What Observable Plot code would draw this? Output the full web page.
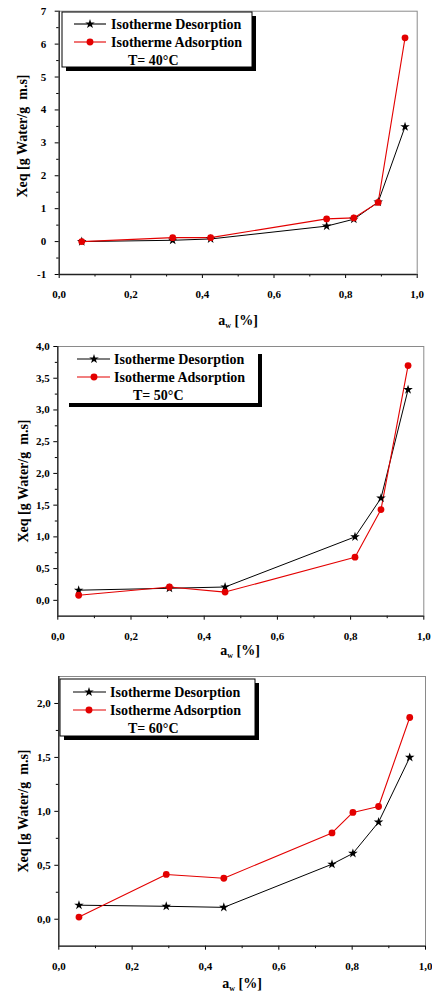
<!DOCTYPE html>
<html>
<head>
<meta charset="utf-8">
<script src="https://cdn.jsdelivr.net/npm/d3@7"></script>
<script src="https://cdn.jsdelivr.net/npm/@observablehq/plot@0.6"></script>
<style>
  html, body { margin: 0; padding: 0; background: white; }
  #chart svg { display: block; }
</style>
</head>
<body>
<div id="chart"></div>
<script>
// ---------- data ----------
const aw40  = [0.063, 0.317, 0.423, 0.747, 0.823, 0.891, 0.966];
const des40 = [0.00, 0.04, 0.08, 0.47, 0.68, 1.20, 3.49];
const ads40 = [0.00, 0.12, 0.12, 0.69, 0.72, 1.19, 6.19];

const aw50  = [0.057, 0.305, 0.457, 0.812, 0.883, 0.957];
const des50 = [0.16, 0.19, 0.21, 1.00, 1.61, 3.32];
const ads50 = [0.08, 0.21, 0.13, 0.68, 1.43, 3.70];

const aw60  = [0.055, 0.293, 0.450, 0.745, 0.802, 0.872, 0.957];
const des60 = [0.13, 0.12, 0.11, 0.51, 0.61, 0.90, 1.50];
const ads60 = [0.02, 0.415, 0.38, 0.80, 0.99, 1.045, 1.87];

const xTicks = [0, 0.2, 0.4, 0.6, 0.8, 1.0];
const xMinor = [0.1, 0.3, 0.5, 0.7, 0.9];
const yTicks40 = [-1, 0, 1, 2, 3, 4, 5, 6, 7];
const yMinor40 = [-0.5, 0.5, 1.5, 2.5, 3.5, 4.5, 5.5, 6.5];
const yTicks50 = [0, 0.5, 1, 1.5, 2, 2.5, 3, 3.5, 4];
const yMinor50 = [-0.25, 0.25, 0.75, 1.25, 1.75, 2.25, 2.75, 3.25, 3.75];
const yTicks60 = [0, 0.5, 1, 1.5, 2];
const yMinor60 = [-0.25, 0.25, 0.75, 1.25, 1.75, 2.25];

const seriesNames = ["Isotherme Desorption", "Isotherme Adsorption"];
const tempLabels = ["T= 40°C", "T= 50°C", "T= 60°C"];
const xTitle = ["a", "w", " [%]"];
const yTitle = "Xeq [g Water/g  m.s]";

// ---------- style ----------
const FONT = "'Liberation Serif', 'DejaVu Serif', serif";
const RED = "#e30000";
const comma = d => d3.format(".1f")(d).replace(".", ",");

const panels = [
  { aw: aw40, des: des40, ads: ads40, yDomain: [-1, 7], yTicks: yTicks40, yMinor: yMinor40,
    yFmt: d => String(d), height: 330, mt: 10.7, mb: 56, ml: 58.7, mr: 15.3, yPad: 9,
    temp: tempLabels[0], yLabel: { x: 22, y: 136 }, xLabel: { x: 238, y: 325 },
    leg: { x: 62, y: 12, w: 190, h: 55, rows: [24, 42, 60], l1: 74, l2: 106, m: 90, t: 111, tt: 128, border: true } },
  { aw: aw50, des: des50, ads: ads50, yDomain: [-0.25, 4], yTicks: yTicks50, yMinor: yMinor50,
    yFmt: comma, height: 330, mt: 16, mb: 44.3, ml: 57.3, mr: 8.7, yPad: 4,
    temp: tempLabels[1], yLabel: { x: 23, y: 151 }, xLabel: { x: 240, y: 325 },
    leg: { x: 65, y: 20, w: 193, h: 53, rows: [29, 47, 65], l1: 77, l2: 110, m: 94, t: 114, tt: 133, border: false } },
  { aw: aw60, des: des60, ads: ads60, yDomain: [-0.25, 2.25], yTicks: yTicks60, yMinor: yMinor60,
    yFmt: comma, height: 335, mt: 16, mb: 49.3, ml: 58.3, mr: 7, yPad: 4,
    temp: tempLabels[2], yLabel: { x: 23, y: 151 }, xLabel: { x: 242, y: 328 },
    leg: { x: 60, y: 19, w: 195, h: 57, rows: [32, 50, 68], l1: 73, l2: 106, m: 89, t: 110, tt: 128, border: true } }
];

const xDomain = [0, 1];

function makePanel(cfg) {
  const des = cfg.aw.map((x, i) => ({ x, y: cfg.des[i] }));
  const ads = cfg.aw.map((x, i) => ({ x, y: cfg.ads[i] }));
  const svg = Plot.plot({
    width: 432, height: cfg.height,
    marginTop: cfg.mt, marginBottom: cfg.mb, marginLeft: cfg.ml, marginRight: cfg.mr,
    x: { domain: xDomain },
    y: { domain: cfg.yDomain },
    style: { fontFamily: FONT, fontWeight: "bold", fontSize: "11px", color: "black", background: "white", overflow: "hidden" },
    marks: [
      Plot.frame({ stroke: "#8a8a8a", strokeWidth: 1 }),
      Plot.axisX({ ticks: xTicks, tickSize: 4, tickPadding: 12, tickFormat: comma, label: null, fontSize: 11, fontWeight: "bold", fontFamily: FONT }),
      Plot.axisX({ ticks: xMinor, tickSize: 2.5, tickFormat: () => "", label: null }),
      Plot.axisY({ ticks: cfg.yTicks, tickSize: 4, tickPadding: cfg.yPad, tickFormat: cfg.yFmt, label: null, fontSize: 11, fontWeight: "bold", fontFamily: FONT }),
      Plot.axisY({ ticks: cfg.yMinor.filter(v => v > cfg.yDomain[0] && v < cfg.yDomain[1]), tickSize: 2.5, tickFormat: () => "", label: null }),
      Plot.ruleX([xDomain[0]], { stroke: "#222", strokeWidth: 1.3 }),
      Plot.ruleY([cfg.yDomain[0]], { stroke: "#222", strokeWidth: 1.3 }),
      Plot.line(des, { x: "x", y: "y", stroke: "black", strokeWidth: 1 }),
      Plot.line(ads, { x: "x", y: "y", stroke: RED, strokeWidth: 1.1 }),
      Plot.dot(des, { x: "x", y: "y", symbol: "star", fill: "black", r: 3 }),
      Plot.dot(ads, { x: "x", y: "y", symbol: "circle", fill: RED, r: 3.4 })
    ]
  });

  const s = d3.select(svg);
  // y title
  s.append("text")
    .attr("transform", `translate(${cfg.yLabel.x},${cfg.yLabel.y}) rotate(-90)`)
    .attr("text-anchor", "middle").attr("dy", "0.35em")
    .attr("font-family", FONT).attr("font-weight", "bold").attr("font-size", 14)
    .attr("fill", "black").style("white-space", "pre")
    .text(yTitle);
  // x title
  const xt = s.append("text")
    .attr("x", cfg.xLabel.x).attr("y", cfg.xLabel.y).attr("text-anchor", "middle")
    .attr("font-family", FONT).attr("font-weight", "bold").attr("font-size", 14).attr("fill", "black");
  xt.append("tspan").text(xTitle[0]);
  xt.append("tspan").attr("font-size", 8).attr("dy", 3).text(xTitle[1]);
  xt.append("tspan").attr("dy", -3).text(xTitle[2]);

  // legend
  const L = cfg.leg;
  const g = s.append("g").attr("text-anchor", "start");
  g.append("rect").attr("x", L.x + 4).attr("y", L.y + 4).attr("width", L.w).attr("height", L.h).attr("fill", "black");
  g.append("rect").attr("x", L.x).attr("y", L.y).attr("width", L.w).attr("height", L.h)
    .attr("fill", "white").attr("stroke", L.border ? "black" : "none").attr("stroke-width", 1);
  const colors = ["black", RED];
  const syms = [d3.symbolStar, d3.symbolCircle];
  const sizes = [Math.PI * 9, Math.PI * 12];
  seriesNames.forEach((name, i) => {
    const y = L.rows[i];
    g.append("line").attr("x1", L.l1).attr("x2", L.l2).attr("y1", y).attr("y2", y)
      .attr("stroke", colors[i]).attr("stroke-width", 1.1);
    g.append("path").attr("d", d3.symbol(syms[i], sizes[i])())
      .attr("transform", `translate(${L.m},${y})`).attr("fill", colors[i]);
    g.append("text").attr("x", L.t).attr("y", y).attr("dy", "0.35em").attr("text-anchor", "start")
      .attr("font-family", FONT).attr("font-weight", "bold").attr("font-size", 14).attr("fill", "black")
      .text(name);
  });
  g.append("text").attr("x", L.tt).attr("y", L.rows[2]).attr("dy", "0.35em").attr("text-anchor", "start")
    .attr("font-family", FONT).attr("font-weight", "bold").attr("font-size", 14).attr("fill", "black")
    .text(cfg.temp);
  return svg;
}

const root = document.getElementById("chart");
panels.forEach(p => root.appendChild(makePanel(p)));
</script>
</body>
</html>
